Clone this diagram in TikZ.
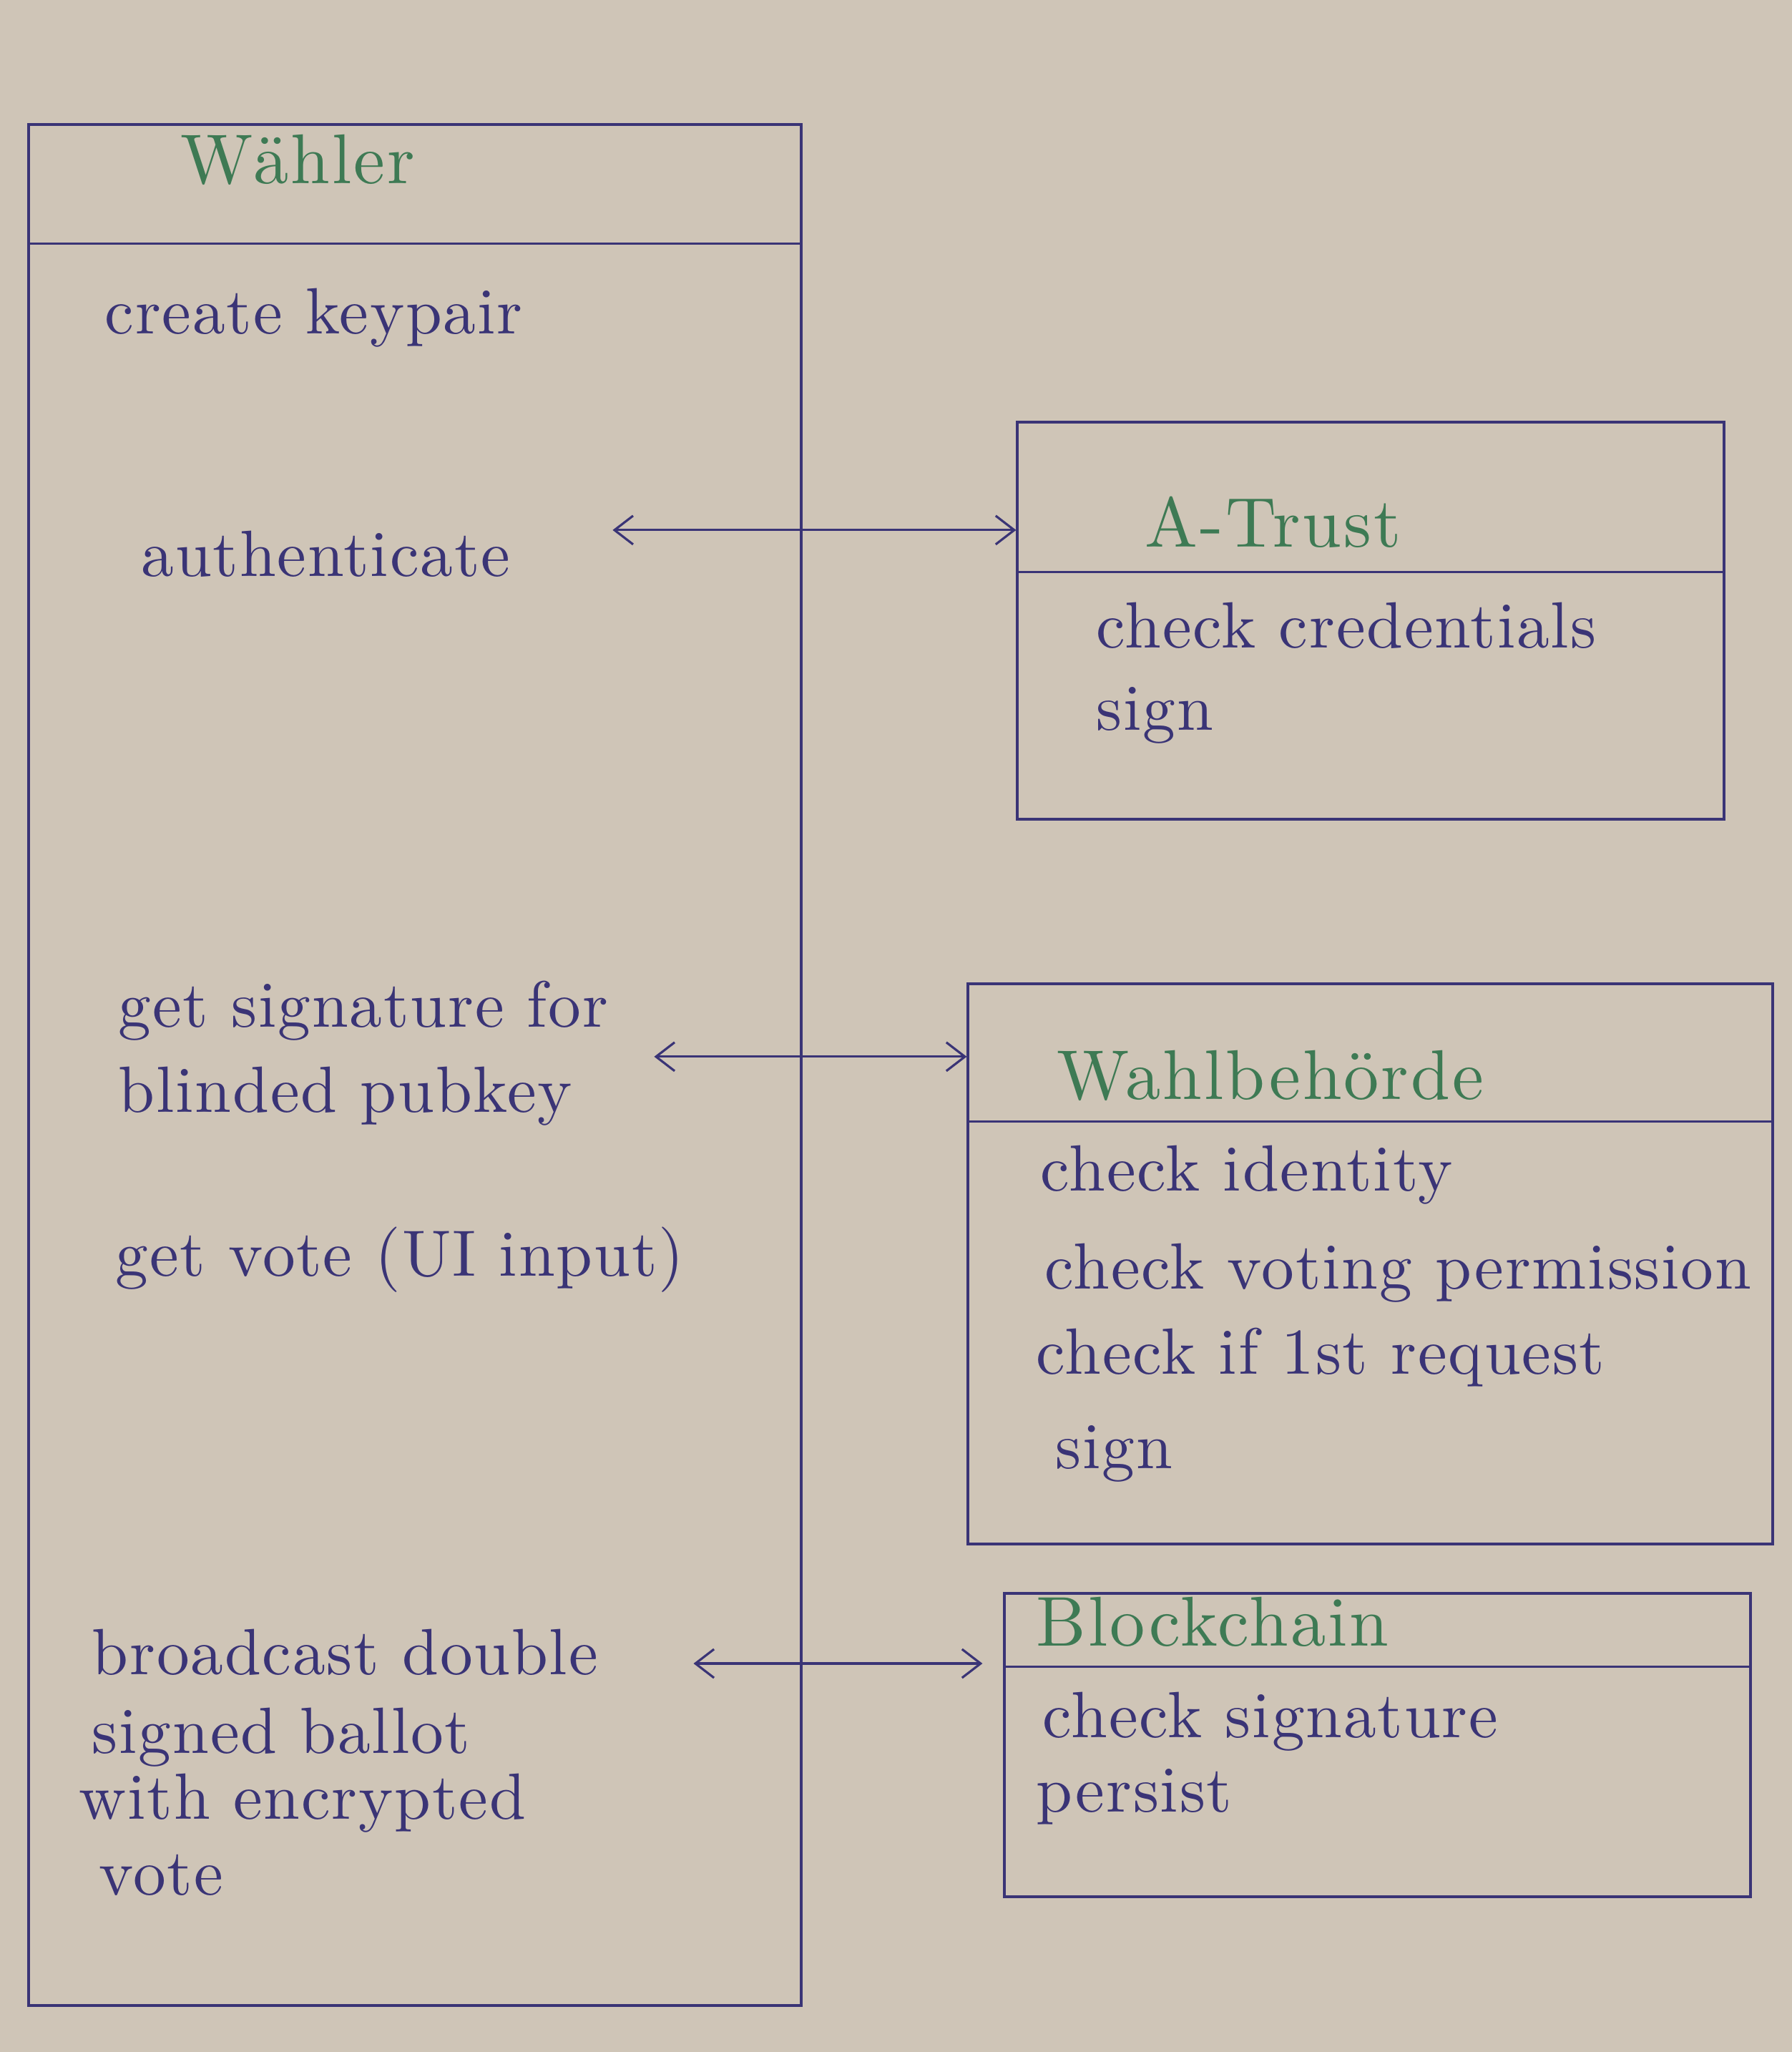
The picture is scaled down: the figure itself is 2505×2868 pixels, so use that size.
\documentclass[tikz,border=0pt]{standalone}
\usepackage{fontspec}
\usepackage{tikz}
\usetikzlibrary{fit,calc,arrows.meta}
\newfontfamily\handfont{lmroman10-regular.otf}[LetterSpace=2]
\newfontfamily\headfont{lmroman10-regular.otf}[LetterSpace=3]
\definecolor{paper}{RGB}{207,197,183}
\definecolor{ink}{RGB}{58,52,118}
\definecolor{greenink}{RGB}{62,122,84}

\tikzset{
    box/.style={draw=ink, line width=0.9pt, inner sep=0pt},
    entry/.style={anchor=base west, inner sep=0pt, text=ink, font=\handfont\fontsize{26}{30}\selectfont},
    title/.style={anchor=base west, inner sep=0pt, text=greenink, font=\headfont\fontsize{28}{32}\selectfont},
    link/.style={draw=ink, line width=0.9pt, {Straight Barb[length=2.6mm,width=4mm]}-{Straight Barb[length=2.6mm,width=4mm]}},
}

\begin{document}
\begin{tikzpicture}[x=0.01cm, y=-0.01cm]
    \fill[paper] (0,0) rectangle (2505,2868);
    \useasboundingbox (0,0) rectangle (2505,2868);

    % Waehler
    \node[box, fit={(40,174) (1120,2803)}] (waehler) {};
    \draw[ink, line width=0.9pt] ($(waehler.north west)+(0,168)$) -- ($(waehler.north east)+(0,168)$);
    \node[title] (waehlertitle) at (252,256) {Wähler};
    \node[entry] (keypair) at (146,466) {create keypair};
    \node[entry] (auth) at (197,805) {authenticate};
    \node[entry] (sigfor) at (165,1435) {get signature for};
    \node[entry] (blinded) at (165,1554) {blinded pubkey};
    \node[entry] (getvote) at (161,1783) {get vote (UI input)};
    \node[entry] (bcast) at (128,2340) {broadcast double};
    \node[entry] (ballot) at (128,2450) {signed ballot};
    \node[entry] (withenc) at (110,2542) {with encrypted};
    \node[entry] (votetxt) at (138,2648) {vote};

    % A-Trust
    \node[box, fit={(1422,590) (2410,1145)}] (atrust) {};
    \draw[ink, line width=0.9pt] ($(atrust.north west)+(0,211)$) -- ($(atrust.north east)+(0,211)$);
    \node[title] (atrusttitle) at (1600,764) {A-Trust};
    \node[entry] (credentials) at (1532,905) {check credentials};
    \node[entry] (atrustsign) at (1532,1020) {sign};

    % Wahlbehoerde
    \node[box, fit={(1353,1375) (2478,2158)}] (wahl) {};
    \draw[ink, line width=0.9pt] ($(wahl.north west)+(0,194)$) -- ($(wahl.north east)+(0,194)$);
    \node[title] (wahltitle) at (1477,1536) {Wahlbehörde};
    \node[entry] (identity) at (1454,1664) {check identity};
    \node[entry] (permission) at (1460,1801) {check voting permission};
    \node[entry] (firstreq) at (1448,1920) {check if 1st request};
    \node[entry] (wahlsign) at (1475,2052) {sign};

    % Blockchain
    \node[box, fit={(1404,2227) (2447,2651)}] (chain) {};
    \draw[ink, line width=0.9pt] ($(chain.north west)+(0,104)$) -- ($(chain.north east)+(0,104)$);
    \node[title] (chaintitle) at (1448,2300) {Blockchain};
    \node[entry] (checksig) at (1457,2428) {check signature};
    \node[entry] (persist) at (1448,2532) {persist};

    % connections
    \draw[link] ([xshift=6.59cm]auth.north west) -- (auth.north west -| atrust.west);
    \draw[link] ([xshift=7.49cm,yshift=0.13cm]blinded.north west) -- ([yshift=0.13cm]blinded.north west -| wahl.west);
    \draw[link] ([xshift=8.41cm,yshift=0.15cm]bcast.base west) -- ([xshift=-0.29cm,yshift=0.15cm]bcast.base west -| chain.west);
\end{tikzpicture}
\end{document}
